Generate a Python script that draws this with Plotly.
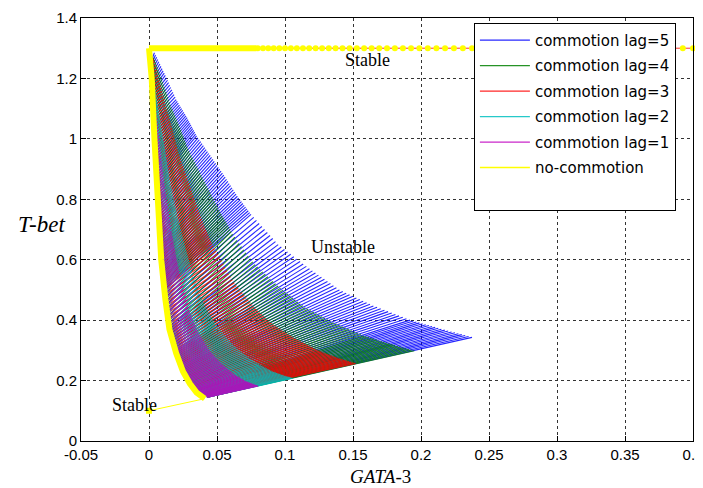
import numpy as np
import plotly.graph_objects as go

# ---------------- data ----------------
# no-commotion equilibrium curve (GATA-3, T-bet)
curve_x = [0.000, 0.001, 0.002, 0.004, 0.006, 0.009, 0.012, 0.015, 0.020, 0.025, 0.030, 0.035, 0.041]
curve_y = [1.300, 1.260, 1.200, 1.000, 0.800, 0.600, 0.470, 0.370, 0.290, 0.230, 0.190, 0.160, 0.140]

# lower stable tail
tail_x = [0.041, 0.000]
tail_y = [0.140, 0.100]

# upper stable branch at T-bet = 1.3
branch_y = 1.3
branch_solid_x = [0.000, 0.079]
branch_dots_x = [0.0800, 0.0838, 0.0877, 0.0917, 0.0958, 0.1000, 0.1043, 0.1087, 0.1132,
                 0.1178, 0.1225, 0.1273, 0.1322, 0.1372, 0.1423, 0.1475, 0.1528, 0.1582,
                 0.1637, 0.1693, 0.1750, 0.1808, 0.1867, 0.1927, 0.1988, 0.2050, 0.2113,
                 0.2177, 0.2242, 0.2308, 0.2375, 0.2443, 0.2512, 0.2582, 0.2653, 0.2725,
                 0.2798, 0.2872, 0.2947, 0.3023, 0.3100, 0.3178, 0.3257, 0.3337, 0.3418,
                 0.3500, 0.3583, 0.3667, 0.3752, 0.3838, 0.3925, 0.4000]

# fan of commotion trajectories: anchor start points (on the yellow curve)
# and anchor end points of the lag=5 (outermost) envelope
fan_start_x = [0.001, 0.002, 0.003, 0.004, 0.005, 0.0065, 0.008, 0.0095, 0.011, 0.015,
               0.019, 0.023, 0.028, 0.034, 0.039, 0.043]
fan_start_y = [1.250, 1.150, 1.050, 0.950, 0.850, 0.750, 0.650, 0.570, 0.500, 0.380,
               0.300, 0.250, 0.210, 0.175, 0.155, 0.145]
fan_end_x = [0.004, 0.012, 0.020, 0.028, 0.035, 0.045, 0.055, 0.065, 0.075, 0.095,
             0.118, 0.140, 0.165, 0.192, 0.215, 0.240]
fan_end_y = [1.285, 1.210, 1.130, 1.070, 1.010, 0.945, 0.880, 0.810, 0.750, 0.650,
             0.570, 0.500, 0.447, 0.400, 0.370, 0.340]

lag_names = ["commotion lag=5", "commotion lag=4", "commotion lag=3", "commotion lag=2", "commotion lag=1"]
lag_reach = [1.00, 0.78, 0.56, 0.32, 0.19]          # share of the lag=5 length
lag_start_shift = [0.0, 0.3, -0.3, 0.5, 0.25]       # start offset along the yellow curve (anchor steps)
lag_colors = ["#0000FF", "#008000", "#FF0000", "#00BFBF", "#BF00BF"]

x_ticks = [-0.05, 0, 0.05, 0.1, 0.15, 0.2, 0.25, 0.3, 0.35, 0.4]
x_ticktext = ["-0.05", "0", "0.05", "0.1", "0.15", "0.2", "0.25", "0.3", "0.35", "0.4"]
y_ticks = [0, 0.2, 0.4, 0.6, 0.8, 1.0, 1.2, 1.4]
y_ticktext = ["0", "0.2", "0.4", "0.6", "0.8", "1", "1.2", "1.4"]

N_SEG = 150


def fan_segments(reach, offset, shift):
    idx = np.arange(len(fan_start_x))
    top = len(fan_start_x) - 1
    u = (np.arange(N_SEG) + offset) / N_SEG * top
    us = np.clip(u + shift, 0, top)
    sx = np.interp(us, idx, fan_start_x)
    sy = np.interp(us, idx, fan_start_y)
    ex = sx + reach * (np.interp(u, idx, fan_end_x) - sx)
    ey = sy + reach * (np.interp(u, idx, fan_end_y) - sy)
    xs, ys = [], []
    for a, b, c, d in zip(sx, ex, sy, ey):
        xs += [a, b, None]
        ys += [c, d, None]
    return xs, ys


fig = go.Figure()

for i, (name, reach, shift, col) in enumerate(zip(lag_names, lag_reach, lag_start_shift, lag_colors)):
    xs, ys = fan_segments(reach, i / len(lag_names), shift)
    fig.add_trace(go.Scatter(x=xs, y=ys, mode="lines", name=name, legendgroup=name,
                             line=dict(color=col, width=1.1), opacity=0.85,
                             hoverinfo="skip"))

# red trace under the upper branch
fig.add_trace(go.Scatter(x=[0.0, 0.4], y=[branch_y, branch_y], mode="lines",
                         line=dict(color="#FF3030", width=1), showlegend=False, hoverinfo="skip",
                         cliponaxis=False))

yellow = "#FFFF00"
fig.add_trace(go.Scatter(x=curve_x, y=curve_y, mode="lines",
                         line=dict(color=yellow, width=6), showlegend=False, hoverinfo="skip"))
fig.add_trace(go.Scatter(x=branch_solid_x, y=[branch_y] * len(branch_solid_x), mode="lines",
                         line=dict(color=yellow, width=6), showlegend=False, hoverinfo="skip"))
fig.add_trace(go.Scatter(x=branch_dots_x, y=[branch_y] * len(branch_dots_x), mode="markers",
                         marker=dict(color=yellow, size=6), showlegend=False, hoverinfo="skip",
                         cliponaxis=False))
fig.add_trace(go.Scatter(x=tail_x, y=tail_y, mode="lines",
                         line=dict(color=yellow, width=1), showlegend=False, hoverinfo="skip"))
fig.add_trace(go.Scatter(x=[tail_x[-1]], y=[tail_y[-1]], mode="markers",
                         marker=dict(color=yellow, size=6, symbol="square"),
                         showlegend=False, hoverinfo="skip"))
# legend entry for the yellow curve
fig.add_trace(go.Scatter(x=[None], y=[None], mode="lines", name="no-commotion",
                         legendgroup="no-commotion", line=dict(color=yellow, width=1.5)))
fig.add_trace(go.Scatter(x=[None], y=[None], mode="lines", name=" ", legendgroup="blank",
                         line=dict(color="rgba(0,0,0,0)", width=1)))

serif = "Liberation Serif"
sans = "Liberation Sans"

fig.add_annotation(x=0.161, y=1.262, text="Stable", showarrow=False,
                   font=dict(family=serif, size=18, color="black"))
fig.add_annotation(x=0.143, y=0.642, text="Unstable", showarrow=False,
                   font=dict(family=serif, size=18, color="black"))
fig.add_annotation(x=-0.011, y=0.119, text="Stable", showarrow=False,
                   font=dict(family=serif, size=18, color="black"))
fig.add_annotation(xref="paper", yref="paper", x=-0.064, y=0.513, text="<i>T-bet</i>",
                   showarrow=False, xanchor="center", yanchor="middle",
                   font=dict(family=serif, size=23, color="black"))
fig.add_annotation(xref="paper", yref="paper", x=0.49, y=-0.085, text="<i>GATA</i>-3",
                   showarrow=False, xanchor="center", yanchor="middle",
                   font=dict(family=serif, size=19, color="black"))

axis_common = dict(showline=True, linecolor="black", linewidth=1, mirror=True,
                   ticks="inside", ticklen=5, tickcolor="black", automargin=False,
                   ticklabeloverflow="allow",
                   showgrid=True, gridcolor="#333333", gridwidth=1, griddash="3px,3px",
                   zeroline=False, tickfont=dict(family=sans, size=15, color="black"))

fig.update_xaxes(range=[-0.05, 0.4], tickvals=x_ticks, ticktext=x_ticktext, **axis_common)
fig.update_yaxes(range=[0, 1.4], tickvals=y_ticks, ticktext=y_ticktext, **axis_common)

# the page body adds an 8px margin, so the figure is 8px smaller on each axis
fig.update_layout(
    width=695, height=480,
    margin=dict(l=73, r=10, t=10, b=47, autoexpand=False),
    paper_bgcolor="white", plot_bgcolor="white",
    showlegend=True,
    legend=dict(x=0.642, y=0.9885, xanchor="left", yanchor="top",
                bgcolor="white", bordercolor="black", borderwidth=1,
                tracegroupgap=3, itemwidth=50,
                font=dict(family="DejaVu Sans", size=15, color="black")),
)

fig.write_html("out.html")
